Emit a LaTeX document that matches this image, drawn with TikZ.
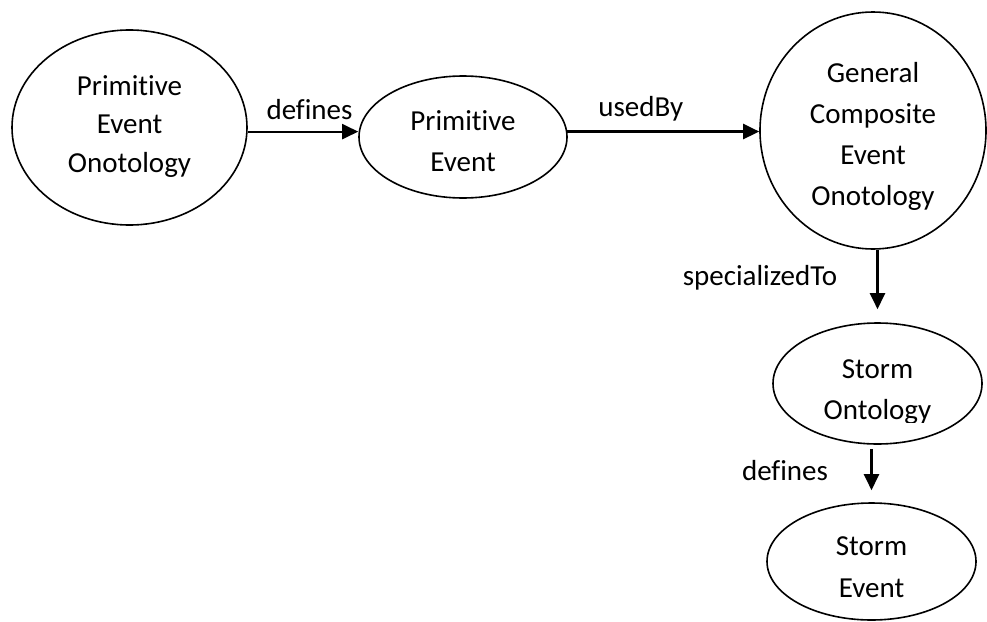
\documentclass[tikz,border=0pt]{standalone}
\usepackage{fontspec}
\setmainfont{Carlito}[Ligatures=NoCommon]
\usetikzlibrary{arrows.meta,shapes.geometric}
\begin{document}
\begin{tikzpicture}[x=1pt,y=-1pt,
  oval/.style={draw, ellipse, line width=1.6pt, inner sep=0pt},
  txt/.style={font=\fontsize{29}{#1}\selectfont, align=center, inner sep=0pt, anchor=base},
  txt/.default=41.5,
  arr/.style={line width=2.2pt, -{Triangle[length=16pt,width=15pt]}}]
\useasboundingbox (0,0) rectangle (987,621);

% concept ellipses
\node[oval, minimum width=235, minimum height=195] (peo) at (129.5,127.5) {};
\node[oval, minimum width=208, minimum height=122] (pe)  at (463,137) {};
\node[oval, minimum width=226, minimum height=237] (gc)  at (873,130.5) {};
\node[oval, minimum width=209, minimum height=121] (so)  at (877.5,383.5) {};
\node[oval, minimum width=209, minimum height=117] (se)  at (871.5,561.5) {};

% texts inside the ellipses (anchored at the last baseline)
\node[txt=38.5] (peo-t) at (129.5,172) {Primitive\\Event\\Onotology};
\node[txt=41.7] (pe-t) at (463,171.7) {Primitive\\Event};
\begin{scope}
  \clip (780,20) rectangle (970,209.5);
  \node[txt=41] (gc-t) at (873,205) {General\\Composite\\Event\\Onotology};
\end{scope}
\begin{scope}
  \clip (790,330) rectangle (965,422.5);
  \node[txt=41] (so-t) at (877.5,419) {Storm\\Ontology};
\end{scope}
\node[txt=42.5] (se-t) at (871.5,597.5) {Storm\\Event};

% connectors
\coordinate (t1) at ([yshift=13pt]so.north);
\coordinate (s2) at ([yshift=-4pt]so.south -| se.north);
\coordinate (t2) at ([yshift=12pt]se.north);
\draw[arr] (peo.-2) -- (peo.-2 -| pe.west);
\draw[arr] (pe.3) -- (pe.3 -| gc.west);
\draw[arr] (gc.south -| t1) -- (t1);
\draw[arr] (s2) -- (t2);

% connector labels
\node[txt] (l1) at (309.5,119.3) {defines};
\node[txt] (l2) at (640.7,116.7) {usedBy};
\node[txt] (l3) at (760,285.7) {specializedTo};
\node[txt] (l4) at (785,480.7) {defines};
\end{tikzpicture}
\end{document}
